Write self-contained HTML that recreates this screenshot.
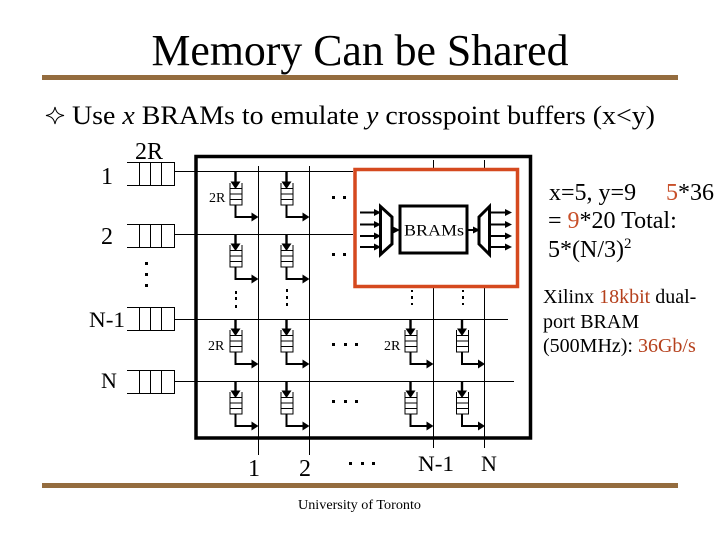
<!DOCTYPE html>
<html><head><meta charset="utf-8">
<style>
html,body{margin:0;padding:0;background:#fff;width:720px;height:540px;overflow:hidden}
svg{display:block}
text{font-family:"Liberation Serif","DejaVu Serif",serif;fill:#000}
</style></head><body>
<svg width="720" height="540" viewBox="0 0 720 540" xmlns="http://www.w3.org/2000/svg">
<defs>
<g id="cell" fill="none" stroke="#000">
  <path d="M0.5 11V33H12.500V11M0.5 16.500H12.500M0.5 22H12.500M0.5 27.500H12.500" stroke-width="1"/>
  <path d="M6 0V12" stroke-width="2.400"/>
  <path d="M1 9.500H11L6 17Z" fill="#000" stroke="none"/>
  <path d="M6 33V45H24" stroke-width="2"/>
  <path d="M22 40.500L29 45L22 49.500Z" fill="#000" stroke="none"/>
</g>
<g id="q" fill="none" stroke="#000" stroke-width="1">
  <path d="M127 0.500H174.500V23.500H127M139.500 0.500V23.500M150.500 0.500V23.500M161.500 0.500V23.500"/>
</g>
<path id="ah" d="M0 -3.500L7 0L0 3.500Z" fill="#000"/>
</defs>

<rect x="42" y="75" width="636" height="5" fill="#946c3e"/>
<rect x="42" y="483" width="636" height="5" fill="#946c3e"/>

<text x="360" y="65" font-size="44" text-anchor="middle" textLength="417" lengthAdjust="spacingAndGlyphs">Memory Can be Shared</text>
<path d="M46 115.500C52 114.500 54 112 55 107C56 112 58 114.500 64 115.500C58 116.500 56 119 55 124C54 119 52 116.500 46 115.500Z" fill="none" stroke="#000" stroke-width="1"/>
<text x="72" y="124" font-size="26" textLength="583" lengthAdjust="spacingAndGlyphs">Use <tspan font-style="italic">x</tspan> BRAMs to emulate <tspan font-style="italic">y</tspan> crosspoint buffers (x&lt;y)</text>

<!-- switch frame -->
<rect x="196" y="156.500" width="334.500" height="281.500" fill="none" stroke="#000" stroke-width="3.500"/>

<!-- row lines -->
<g stroke="#000" stroke-width="1" fill="none">
  <path d="M174 171.500H353M174 234.500H353M174 319.500H508M174 381.500H514"/>
  <path d="M258.500 166V455M309.500 166V455M433.500 160V448M484.500 160V448"/>
</g>

<!-- input queues -->
<use href="#q" y="162"/>
<use href="#q" y="224"/>
<use href="#q" y="307"/>
<use href="#q" y="370"/>

<!-- crosspoint cells -->
<use href="#cell" x="229.500" y="172"/>
<use href="#cell" x="280.500" y="172"/>
<use href="#cell" x="229.500" y="234"/>
<use href="#cell" x="280.500" y="234"/>
<use href="#cell" x="229.500" y="319"/>
<use href="#cell" x="280.500" y="319"/>
<use href="#cell" x="404.500" y="319"/>
<use href="#cell" x="456" y="319"/>
<use href="#cell" x="229.500" y="381"/>
<use href="#cell" x="280.500" y="381"/>
<use href="#cell" x="404.500" y="381"/>
<use href="#cell" x="456" y="381"/>

<!-- dots -->
<g fill="#000">
  <rect x="145" y="262" width="3" height="3"/><rect x="145" y="273" width="3" height="3"/><rect x="145" y="284" width="3" height="3"/>
  <rect x="235" y="291" width="2" height="3"/><rect x="235" y="297" width="2" height="3"/><rect x="235" y="305" width="2" height="3"/>
  <rect x="286" y="289" width="2" height="3"/><rect x="286" y="296" width="2" height="3"/><rect x="286" y="303" width="2" height="3"/>
  <rect x="411" y="290" width="2" height="2"/><rect x="411" y="296" width="2" height="3"/><rect x="411" y="303" width="2" height="2"/>
  <rect x="462" y="290" width="2" height="2"/><rect x="462" y="296" width="2" height="3"/><rect x="462" y="303" width="2" height="2"/>
  <rect x="332" y="196" width="3" height="3"/><rect x="343" y="196" width="3" height="3"/>
  <rect x="332" y="253" width="3" height="3"/><rect x="343" y="253" width="3" height="3"/>
  <rect x="332" y="343" width="3" height="3"/><rect x="344" y="343" width="3" height="3"/><rect x="355" y="343" width="3" height="3"/>
  <rect x="332" y="400" width="3" height="3"/><rect x="344" y="400" width="3" height="3"/><rect x="355" y="400" width="3" height="3"/>
  <rect x="349" y="462" width="3" height="3"/><rect x="361" y="462" width="3" height="3"/><rect x="372" y="462" width="3" height="3"/>
</g>

<!-- red overlay -->
<rect x="355" y="169.500" width="162.500" height="117" fill="#fff" stroke="#d5491f" stroke-width="3.500"/>

<!-- BRAMs -->
<rect x="400" y="206" width="67" height="47" fill="#fff" stroke="#000" stroke-width="3"/>
<text x="434" y="235.500" font-size="15.500" text-anchor="middle" textLength="60" lengthAdjust="spacingAndGlyphs">BRAMs</text>
<path d="M380.500 206.500L392 217V244L380.500 254.500Z" fill="#fff" stroke="#000" stroke-width="3"/>
<path d="M489.500 206.500L479 217V244L489.500 254.500Z" fill="#fff" stroke="#000" stroke-width="3"/>
<g stroke="#000" stroke-width="2" fill="none">
  <path d="M360 212.500H376M360 224.500H376M360 236H376M360 247H376"/>
  <path d="M490 212.500H506M490 224.500H506M490 236H506M490 247H506"/>
  <path d="M392 230H395M468 230H474"/>
</g>
<use href="#ah" x="374" y="212.500"/><use href="#ah" x="374" y="224.500"/><use href="#ah" x="374" y="236"/><use href="#ah" x="374" y="247"/>
<use href="#ah" x="505" y="212.500"/><use href="#ah" x="505" y="224.500"/><use href="#ah" x="505" y="236"/><use href="#ah" x="505" y="247"/>
<use href="#ah" x="393" y="230"/><use href="#ah" x="473" y="230"/>

<!-- labels -->
<g font-size="22">
  <text x="135" y="159" font-size="24" textLength="28" lengthAdjust="spacingAndGlyphs">2R</text>
  <text x="101" y="184" font-size="24">1</text>
  <text x="101" y="244" font-size="24">2</text>
  <text x="89" y="327" textLength="36" lengthAdjust="spacingAndGlyphs">N-1</text>
  <text x="101" y="388">N</text>
  <text x="248" y="476" font-size="24">1</text>
  <text x="299" y="476" font-size="24">2</text>
  <text x="418" y="471" textLength="36" lengthAdjust="spacingAndGlyphs">N-1</text>
  <text x="481" y="471">N</text>
</g>
<g font-size="14">
  <text x="209" y="202">2R</text>
  <text x="208" y="350">2R</text>
  <text x="384" y="350">2R</text>
</g>

<g font-size="24">
  <text x="549" y="200">x=5, y=9<tspan x="666" fill="#c8502a">5</tspan>*36</text>
  <text x="548" y="228">= <tspan fill="#c8502a">9</tspan>*20 Total:</text>
  <text x="548" y="257">5*(N/3)<tspan font-size="15" dy="-9">2</tspan></text>
</g>
<g font-size="20">
  <text x="543" y="303">Xilinx <tspan fill="#b5401c">18kbit</tspan> dual-</text>
  <text x="543" y="328">port BRAM</text>
  <text x="543" y="352">(500MHz): <tspan fill="#b5401c">36Gb/s</tspan></text>
</g>
<text x="298" y="509" font-size="14" textLength="123" lengthAdjust="spacingAndGlyphs">University of Toronto</text>
</svg>
</body></html>
